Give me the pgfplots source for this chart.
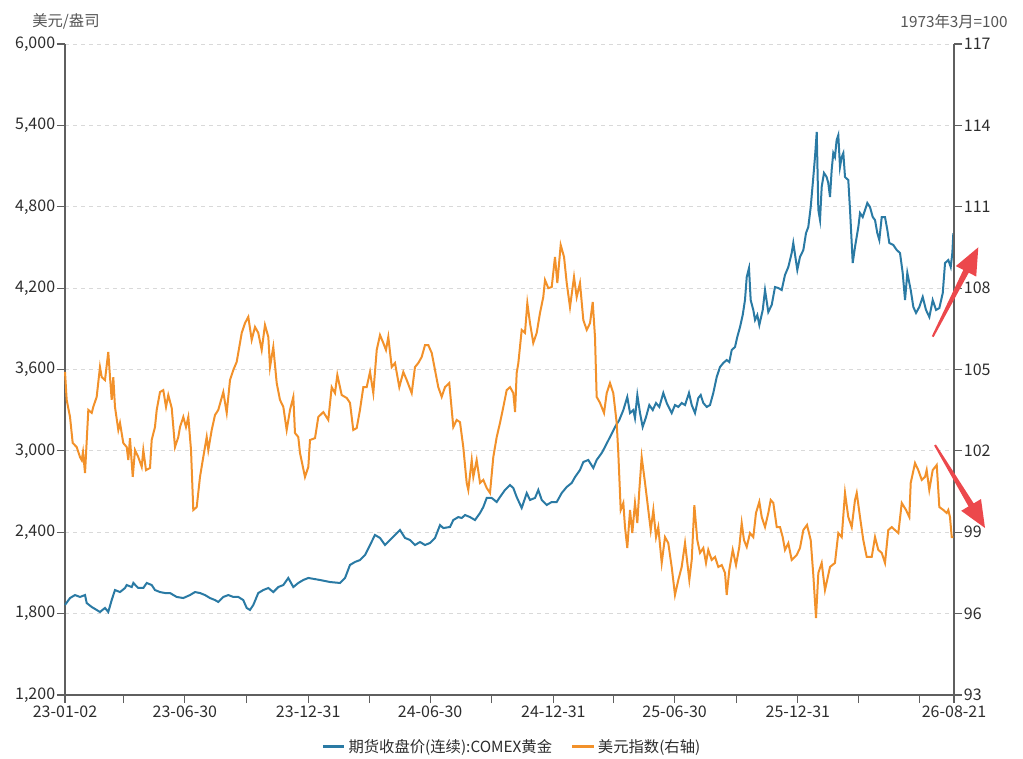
\documentclass[border=0pt]{standalone}
\usepackage{pgfplots}
\pgfplotsset{compat=1.18}
\usepackage{fontspec}
\setmainfont{Noto Sans CJK SC}
\definecolor{goldc}{RGB}{42,122,164}
\definecolor{dxyc}{RGB}{242,145,42}
\definecolor{axgray}{RGB}{95,95,95}
\definecolor{txt}{RGB}{45,45,45}
\definecolor{lbl}{RGB}{85,85,85}
\definecolor{arrowred}{RGB}{236,72,76}
\begin{document}
\begin{tikzpicture}[x=0.75pt,y=0.75pt]
\useasboundingbox (0,0) rectangle (1023,758);
\pgfplotsset{every axis/.append style={
  scale only axis, width=666.75pt, height=488.25pt,
  at={(48.75pt,47.25pt)}, anchor=south west,
  xmin=0, xmax=1327,
  font=\fontsize{12}{14}\selectfont,
  tick label style={text=txt, font=\fontsize{12}{14}\selectfont},
  /pgf/number format/assume math mode=true,
  major tick length=6pt,
  tick align=outside,
  axis line style={-, axgray, line width=0.8pt},
  tick style={axgray, line width=0.8pt},
  clip=false,
}}
\begin{axis}[
  axis y line*=left, axis x line*=bottom,
  ymin=1200, ymax=6000, ytick={1200,1800,2400,3000,3600,4200,4800,5400,6000},
  ymajorgrids, grid style={dashed, black!15, line width=0.6pt},
  xtick={0,88,179,271,363,454,545,637,729,819,910,1002,1094,1184,1275,1327},
  xticklabels={23-01-02,,23-06-30,,23-12-31,,24-06-30,,24-12-31,,25-06-30,,25-12-31,,,26-08-21},
  yticklabel style={/pgf/number format/fixed, /pgf/number format/precision=0, /pgf/number format/1000 sep={,}, inner sep=1.2pt},
  xticklabel style={inner sep=2pt},
]
\addplot[goldc, line width=1.5pt] coordinates {
(0,1864)(7.5,1915)(14.9,1937)(22.4,1923)(29.9,1937)(32.4,1878)(39.9,1849)(47.3,1827)(52.2,1812)(59.7,1842)(64.6,1812)(69.7,1900)(74.6,1974)(82.1,1959)(89.6,1989)(92.1,2011)(99.6,1996)(102,2026)(109.4,1989)(116.9,1989)(122,2026)(129.4,2011)(134.3,1974)(141.8,1959)(149.3,1952)(156.7,1952)(166.7,1923)(176.6,1915)(186.6,1937)(194,1959)(201.5,1952)(209,1937)(216.4,1915)(223.9,1900)(228.8,1886)(236.3,1923)(243.8,1937)(251.2,1923)(258.7,1923)(266.1,1900)(271.2,1842)(276.1,1827)(281.1,1864)(288.5,1952)(296,1974)(303.5,1989)(310.9,1959)(318.4,1996)(325.9,2011)(333.3,2063)(340.8,1996)(348.2,2026)(355.7,2048)(363.2,2063)(380.6,2048)(395.6,2033)(410.5,2026)(418,2063)(425.4,2159)(432.9,2181)(440.3,2195)(447.8,2232)(455.3,2306)(462.7,2380)(470.2,2358)(477.7,2306)(485.1,2343)(492.6,2380)(500,2417)(507.5,2358)(515,2343)(522.4,2306)(529.9,2328)(537.4,2306)(544.8,2321)(552.3,2358)(559.8,2453)(564.7,2431)(574.7,2439)(579.6,2490)(587.1,2512)(592.2,2505)(597.1,2527)(604.5,2512)(612,2490)(619.5,2542)(624.4,2586)(629.5,2653)(636.9,2653)(644.4,2623)(649.3,2660)(656.8,2712)(664.3,2748)(669.2,2726)(674.2,2660)(681.7,2579)(689.2,2689)(694.1,2638)(701.6,2653)(706.5,2712)(711.6,2638)(719,2601)(726.5,2623)(734,2623)(741.4,2689)(748.9,2734)(756.3,2763)(761.3,2807)(768.7,2859)(773.7,2918)(781.1,2933)(788.6,2874)(793.6,2933)(801.1,2984)(806,3029)(813.5,3102)(821,3176)(827.4,3228)(833.4,3301)(839.3,3397)(843.4,3279)(848.3,3301)(850.8,3242)(854.3,3412)(858.3,3279)(862.3,3176)(867.3,3250)(872.2,3338)(877.3,3301)(882.2,3353)(887.1,3324)(893.1,3427)(898.2,3353)(905.6,3279)(910.5,3338)(915.5,3324)(920.5,3353)(925.5,3338)(931.4,3427)(935.5,3338)(940.4,3279)(945.3,3390)(948.9,3412)(952.8,3353)(957.9,3324)(962.8,3338)(967.7,3427)(972.8,3545)(977.7,3618)(982.6,3648)(987.7,3670)(991.6,3655)(995.2,3744)(1000.1,3766)(1003.5,3840)(1007.6,3913)(1011.6,4002)(1015,4112)(1017.6,4282)(1021,4348)(1023.5,4112)(1027.4,4039)(1030,3965)(1033.4,4002)(1036.4,3928)(1041.5,4039)(1044.9,4186)(1049.8,4024)(1054.9,4076)(1059.8,4208)(1064.7,4201)(1069.8,4186)(1074.7,4297)(1079.7,4356)(1084.7,4459)(1087.1,4533)(1093.1,4334)(1097.1,4430)(1102.1,4481)(1106.1,4606)(1109.5,4651)(1113.1,4798)(1117,5019)(1119.5,5167)(1122.1,5351)(1124.5,4776)(1127,4702)(1129.5,4946)(1132.9,5049)(1136.9,5019)(1139.3,4975)(1141.9,4872)(1144.4,5071)(1146.8,5196)(1149.3,5167)(1151.8,5292)(1154.3,5329)(1156.8,5093)(1159.4,5167)(1161.8,5196)(1164.3,5019)(1169.2,4997)(1171.8,4776)(1174.3,4533)(1175.8,4385)(1179.2,4503)(1184.2,4651)(1186.7,4754)(1190.7,4724)(1194.2,4776)(1197.6,4828)(1201.6,4798)(1205.7,4724)(1209.1,4702)(1212.5,4606)(1215.5,4555)(1219.1,4724)(1224,4724)(1227.5,4629)(1230.4,4533)(1236.4,4518)(1241.5,4481)(1246.4,4459)(1250.4,4312)(1253.9,4112)(1257.3,4312)(1262.4,4186)(1266.3,4061)(1270.3,4017)(1275.2,4061)(1280.3,4135)(1285.2,4039)(1290.2,3987)(1295.2,4112)(1300.2,4039)(1305.1,4053)(1310.2,4164)(1313.6,4385)(1318.5,4407)(1322.1,4356)(1324.5,4459)(1326,4606)
};
\end{axis}
\begin{axis}[
  axis y line*=right, axis x line=none,
  ymin=93, ymax=117, ytick={93,96,99,102,105,108,111,114,117},
  yticklabel style={/pgf/number format/fixed, /pgf/number format/precision=0, inner sep=1.2pt},
  legend style={at={(0.503,-0.0794)}, anchor=center, legend columns=2, draw=none, fill=none,
    font=\fontsize{11.5}{13}\selectfont, text=txt,
    /tikz/every even column/.append style={column sep=12pt}},
  legend image code/.code={\draw[#1, line width=2.4pt] (0pt,0pt) -- (16pt,0pt);},
]
\addlegendimage{goldc}
\addlegendentry{期货收盘价(连续):COMEX黄金}
\addplot[dxyc, line width=1.5pt] coordinates {
(0,104.91)(2.5,103.88)(7.5,103.25)(11.5,102.29)(17.5,102.14)(22.4,101.77)(24.9,101.66)(26.9,101.96)(29.9,101.18)(34.8,103.51)(39.9,103.40)(42.2,103.62)(47.3,103.99)(52.2,105.09)(54.8,104.72)(59.7,104.61)(64.6,105.65)(67.2,104.72)(69.7,103.88)(72.1,104.72)(74.6,103.62)(79.6,102.77)(82.1,103.03)(87,102.29)(92.1,102.14)(94.5,101.66)(97,102.47)(101.1,101.04)(104.5,102.03)(109.4,101.77)(114.5,101.41)(116.9,102.03)(120.9,101.29)(126.9,101.37)(129.4,102.40)(134.3,102.88)(136.9,103.51)(141.8,104.17)(146.7,104.24)(150.8,103.62)(154.2,104.06)(159.3,103.58)(164.2,102.14)(169.1,102.51)(171.7,102.88)(176.6,103.25)(180.6,102.88)(184.1,103.25)(188.1,102.03)(191.5,99.82)(196.6,99.93)(201.5,101.04)(206.4,101.77)(211.5,102.51)(213.9,102.03)(219,102.77)(223.9,103.32)(228.8,103.51)(236.3,104.17)(241.4,103.40)(246.3,104.61)(251.2,104.98)(256.3,105.28)(263.8,106.35)(268.7,106.71)(273.6,106.94)(278.7,106.09)(283.6,106.57)(288.5,106.35)(293.6,105.72)(298.5,106.64)(303.5,106.20)(306,105.09)(310.9,105.83)(316,104.50)(320.9,103.88)(325.9,103.62)(330.9,102.77)(335.9,103.51)(340.8,103.99)(343.3,102.66)(348.2,102.51)(350.8,101.92)(358.2,101.04)(363.2,101.41)(365.7,102.40)(373.2,102.47)(378.1,103.25)(385.6,103.43)(393,103.14)(398.1,104.35)(403,104.13)(406.5,104.80)(413,104.06)(420.5,103.95)(425.4,103.77)(430.3,102.77)(435.4,102.84)(440.3,103.51)(445.3,104.35)(450.3,104.35)(455.3,104.91)(460.2,104.13)(465.3,105.72)(470.2,106.27)(475.1,105.98)(479.1,105.72)(482.6,106.20)(487.7,105.09)(492.6,105.24)(499,104.35)(505,104.91)(510.1,104.61)(517.5,104.13)(522.4,105.09)(527.4,105.24)(532.4,105.46)(537.4,105.90)(542.3,105.90)(547.4,105.61)(552.3,104.98)(557.2,104.35)(562.3,103.99)(567.2,104.35)(573.6,104.50)(579.6,102.88)(584.7,103.14)(589.6,103.06)(594.5,102.14)(599.6,100.82)(602,100.56)(607.1,101.66)(609.5,101.04)(614.5,101.66)(619.5,100.82)(624.4,100.93)(629.5,100.63)(634.4,100.45)(639.3,101.77)(644.4,102.51)(649.3,103.03)(654.3,103.62)(659.3,104.24)(664.3,104.35)(669.2,104.13)(671.8,103.43)(674.2,104.87)(676.7,105.24)(681.7,106.46)(686.6,106.35)(690.1,107.45)(694.1,106.71)(699,105.98)(704.1,106.35)(709,107.08)(713.9,107.67)(716.5,108.30)(721.4,108.00)(726.5,108.04)(731.4,109.15)(734.9,108.19)(739.9,109.59)(744.9,109.15)(748.9,108.19)(753.8,107.30)(759.8,108.41)(763.8,107.67)(768.7,108.19)(773.7,106.82)(778.8,106.46)(783.7,106.71)(787.7,107.49)(791.1,106.20)(793.6,103.99)(798.6,103.77)(804.6,103.40)(808.6,104.13)(813.5,104.50)(818.4,104.13)(823.5,103.03)(825.9,101.92)(829.5,99.82)(833.4,100.08)(835.9,99.19)(839.3,98.42)(843.4,99.82)(846.8,98.97)(850.8,100.08)(854.3,99.34)(857.3,100.56)(860.8,101.77)(865.8,100.82)(870.7,99.82)(874.3,99.08)(878.2,99.82)(882.2,98.82)(885.6,99.19)(890.7,97.87)(895.6,98.82)(900.5,98.60)(905.6,97.72)(910.5,96.69)(915.5,97.24)(920.5,97.72)(925.5,98.60)(931.9,97.24)(935.5,97.98)(939.4,100.00)(943.8,98.71)(947.9,98.24)(952.8,98.42)(956.8,97.87)(960.2,98.35)(965.3,97.98)(970.3,98.09)(975.2,97.72)(980.3,97.79)(985.2,97.50)(987.7,96.69)(991.6,97.61)(996.7,98.35)(1001.6,97.79)(1006.5,98.46)(1010.1,99.34)(1013.5,98.71)(1017.6,98.46)(1022.5,98.97)(1027.4,98.82)(1031.4,99.71)(1036.4,100.12)(1040,99.56)(1044.9,99.19)(1049.8,99.71)(1053.4,100.19)(1057.3,100.08)(1062.4,99.19)(1067.3,99.19)(1071.3,98.82)(1074.7,98.35)(1079.7,98.60)(1084.7,97.98)(1092.2,98.16)(1097.1,98.42)(1102.1,99.08)(1107.6,99.27)(1113.1,98.71)(1117,97.42)(1121,95.84)(1124.5,97.50)(1129.5,97.87)(1134.4,96.87)(1141.9,97.72)(1149.3,97.87)(1154.3,98.97)(1159.4,98.82)(1164.3,100.45)(1169.2,99.56)(1174.3,99.19)(1179.2,100.19)(1181.8,100.45)(1186.7,99.56)(1191.6,98.71)(1196.7,98.09)(1204.2,98.09)(1209.1,98.82)(1214,98.35)(1219.1,98.24)(1224,97.87)(1228.9,99.08)(1234,99.19)(1238.9,99.08)(1243.9,98.97)(1249,100.08)(1255.4,99.82)(1260.3,99.56)(1262.4,100.82)(1268.8,101.55)(1273.7,101.29)(1278.8,100.93)(1283.7,101.04)(1286.2,101.29)(1290.1,100.56)(1295.2,101.29)(1301.2,101.48)(1305.1,99.93)(1311.1,99.82)(1316.1,99.71)(1318.5,99.82)(1321,99.56)(1323.6,98.82)(1326,98.82)
};
\addlegendentry{美元指数(右轴)}
\end{axis}
\node[anchor=west, text=lbl, font=\fontsize{11.5}{13}\selectfont, inner sep=0pt] at (32,737) {美元/盎司};
\node[anchor=east, text=lbl, font=\fontsize{11.5}{13}\selectfont, inner sep=0pt] at (1008,736) {1973年3月=100};
\fill[arrowred] (931.8,421.75) -- (963.3,488.1) -- (955.8,491.9) -- (978.3,510.7) -- (976.2,481.5) -- (968.7,485.3) -- (933.6,420.85) -- cycle;
\fill[arrowred] (934.1,312.5) -- (968.5,251.6) -- (961.2,247.2) -- (985,230) -- (981.0,259.0) -- (973.7,254.6) -- (935.9,313.5) -- cycle;
\end{tikzpicture}
\end{document}
